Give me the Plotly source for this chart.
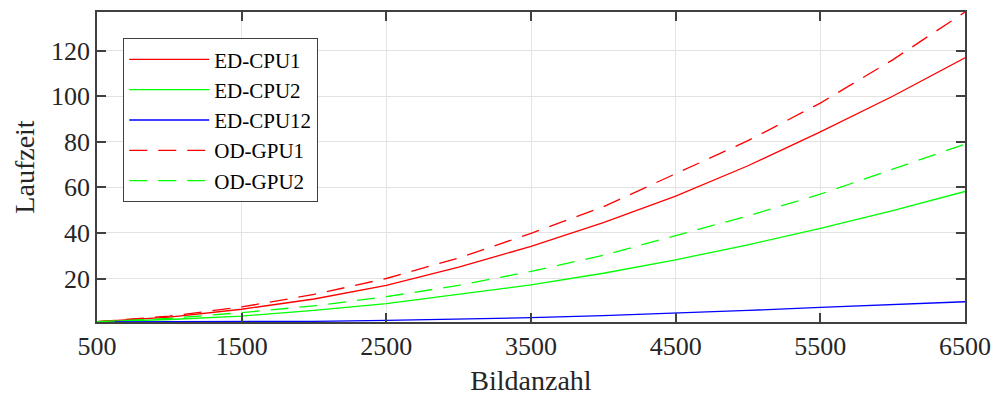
import plotly.graph_objects as go

x = [500, 1000, 1500, 2000, 2500, 3000, 3500, 4000, 4500, 5000, 5500, 6000, 6500]
ed_cpu1 = [1.0, 3.0, 6.5, 11.0, 17.0, 25.0, 34.1, 44.5, 56.2, 69.5, 84.4, 100.0, 116.9]
ed_cpu2 = [1.0, 2.0, 3.5, 6.0, 9.0, 13.0, 17.2, 22.3, 28.2, 34.8, 42.0, 49.8, 58.2]
ed_cpu12 = [0.9, 0.9, 1.0, 1.2, 1.6, 2.1, 2.8, 3.7, 4.7, 6.0, 7.3, 8.7, 9.8]
od_gpu1 = [1.0, 3.5, 7.5, 13.0, 20.0, 29.0, 39.8, 51.5, 66.0, 80.5, 97.0, 116.0, 137.0]
od_gpu2 = [1.0, 2.5, 5.0, 8.0, 12.0, 17.0, 23.1, 30.2, 38.8, 47.5, 57.0, 68.0, 79.0]

series = [
    ("ED-CPU1", ed_cpu1, "#ff0000", "solid"),
    ("ED-CPU2", ed_cpu2, "#00ff00", "solid"),
    ("ED-CPU12", ed_cpu12, "#0000ff", "solid"),
    ("OD-GPU1", od_gpu1, "#ff0000", "18px,11px"),
    ("OD-GPU2", od_gpu2, "#00ff00", "18px,11px"),
]

fig = go.Figure()
for name, ys, col, dash in series:
    fig.add_trace(go.Scatter(x=x, y=ys, name=name, mode="lines",
                             line=dict(color=col, width=1.3, dash=dash)))

font_fam = "Liberation Serif, Times New Roman, serif"
axis_common = dict(
    showline=True, linecolor="#404040", linewidth=1.5, mirror="ticks",
    ticks="inside", ticklen=9, tickwidth=1.5, tickcolor="#404040",
    showgrid=True, gridcolor="#e3e3e3", gridwidth=1, zeroline=False,
    tickfont=dict(family=font_fam, size=26, color="#262626"),
    automargin=False,
)

fig.update_layout(
    width=994, height=396,
    margin=dict(l=97, r=29, t=12, b=74),
    paper_bgcolor="white", plot_bgcolor="white",
    font=dict(family=font_fam, color="#262626"),
    xaxis=dict(range=[500, 6500], tickvals=[500, 1500, 2500, 3500, 4500, 5500, 6500],
               title=dict(text="Bildanzahl", font=dict(family=font_fam, size=28, color="#262626"), standoff=12),
               **axis_common),
    yaxis=dict(range=[0.9, 137], tickvals=[20, 40, 60, 80, 100, 120],
               title=dict(text="Laufzeit", font=dict(family=font_fam, size=28, color="#262626"), standoff=8),
               **axis_common),
    legend=dict(x=0.03, y=0.916, xanchor="left", yanchor="top",
                bgcolor="white", bordercolor="#404040", borderwidth=1.2,
                font=dict(family=font_fam, size=21, color="black"),
                itemwidth=80, tracegroupgap=0),
    showlegend=True,
)

fig.write_html("out.html")
